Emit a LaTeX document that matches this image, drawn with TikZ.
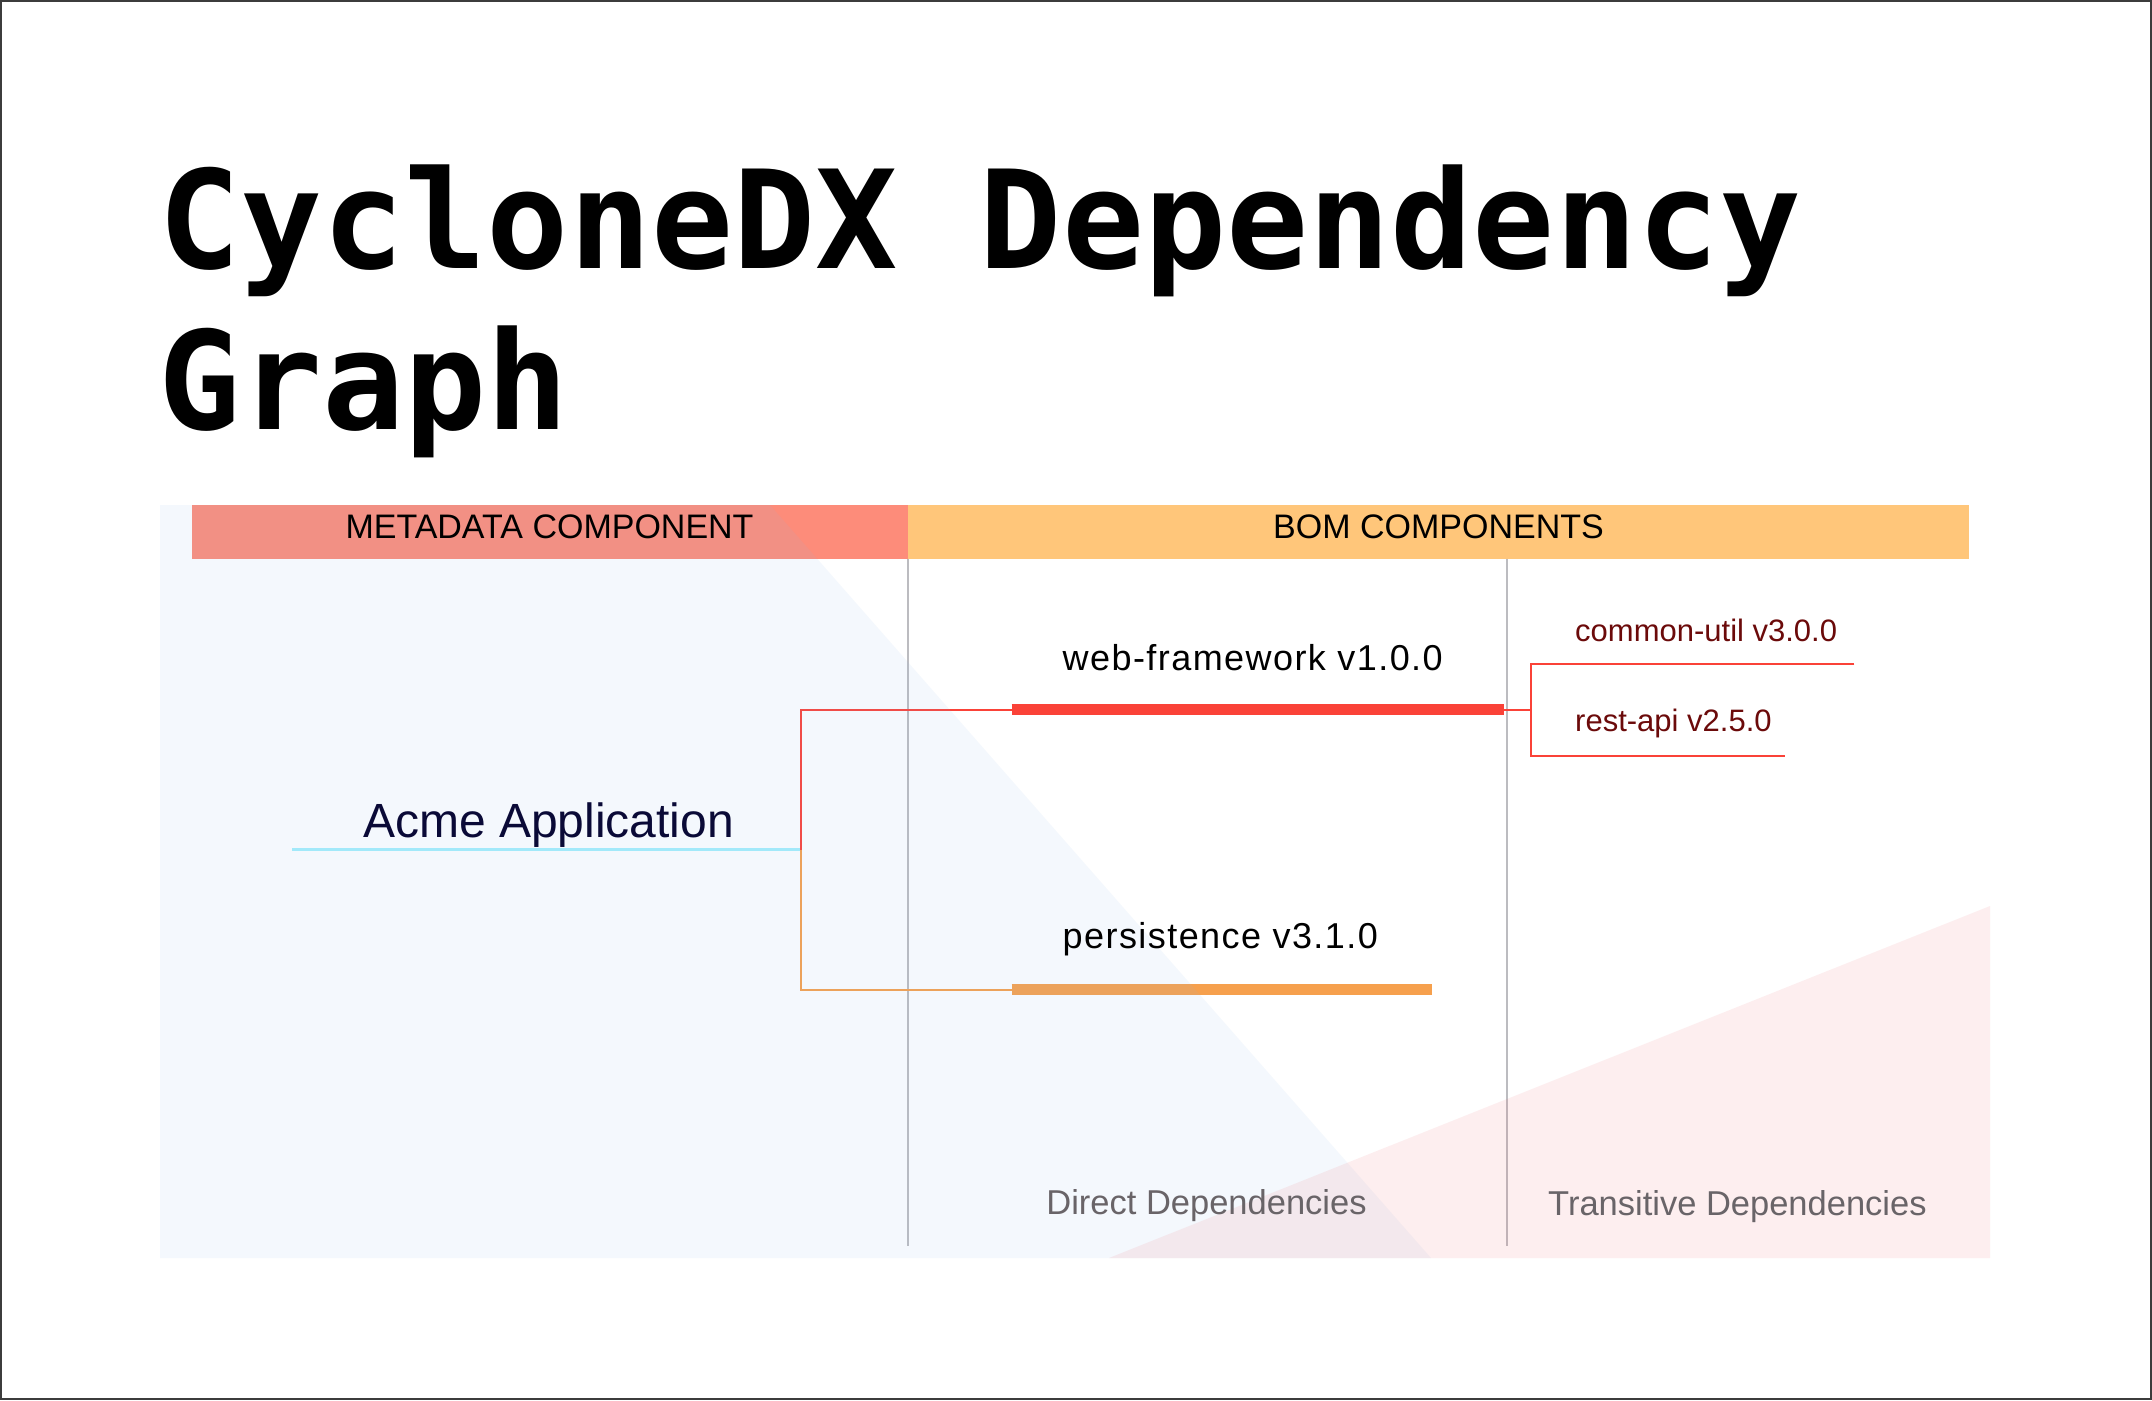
\documentclass[tikz,border=0pt]{standalone}
\usepackage{fontspec}
\setmainfont{Liberation Sans}
\newfontfamily\titlefont{DejaVu Sans Mono}
\newfontfamily\spacedfont{Liberation Sans}[LetterSpace=4]
\definecolor{salmon}{RGB}{253,140,122}
\definecolor{bomorange}{RGB}{255,198,122}
\definecolor{depred}{RGB}{250,66,56}
\definecolor{deporange}{RGB}{246,160,77}
\definecolor{acmecyan}{RGB}{165,238,252}
\definecolor{overlayblue}{RGB}{140,185,235}
\definecolor{overlaypink}{RGB}{240,105,115}
\definecolor{divider}{RGB}{188,188,192}
\definecolor{darkred}{RGB}{107,10,10}
\definecolor{navy}{RGB}{10,10,55}
\definecolor{labelgrey}{RGB}{105,100,104}
\definecolor{framegrey}{RGB}{60,60,60}
\begin{document}
\begin{tikzpicture}[x=1pt,y=-1pt,
  lbl/.style={inner sep=0pt, anchor=base west},
  titletext/.style={lbl, font=\titlefont\bfseries\fontsize{136.5}{160}\selectfont},
  barlabel/.style={inner sep=0pt, anchor=base, font=\fontsize{34}{40}\selectfont, text=black},
  deplabel/.style={lbl, font=\spacedfont\fontsize{36}{42}\selectfont, text=black},
  translabel/.style={lbl, font=\fontsize{31}{37}\selectfont, text=darkred},
  footlabel/.style={lbl, font=\fontsize{34.5}{40}\selectfont, text=labelgrey},
  redlink/.style={draw=depred, line width=2pt},
  orangelink/.style={draw=deporange, line width=2pt},
  redbar/.style={draw=depred, line width=10.7pt},
  orangebar/.style={draw=deporange, line width=10.7pt},
  dividerline/.style={draw=divider, line width=2pt}
]
\useasboundingbox (0,0) rectangle (2152,1400);
\fill[white] (0,0) rectangle (2152,1400);
\draw[framegrey, line width=2pt] (1,1) rectangle (2151,1399);

% title
\node[titletext] (title1) at (158,268) {CycloneDX Dependency};
\node[titletext] (title2) at (158,429.5) {Graph};

% header bars
\fill[salmon] (192,505) rectangle (908,558.5);
\fill[bomorange] (908,505) rectangle (1969,558.5);

% dividers
\coordinate (d1top) at (908,558.5);
\coordinate (d1bot) at (908,1246);
\coordinate (d2top) at (1507,558.5);
\coordinate (d2bot) at (1507,1246);
\draw[dividerline] (d1top) -- (d1bot);
\draw[dividerline] (d2top) -- (d2bot);

% connectors
\coordinate (acmeL) at (292,849.7);
\coordinate (junc) at (801,849.7);
\coordinate (jup) at (801,709.5);
\coordinate (jdown) at (801,989.5);
\coordinate (webL) at (1011.5,709.5);
\coordinate (webR) at (1503.5,709.5);
\coordinate (tj) at (1531,709.5);
\coordinate (tjup) at (1531,664.3);
\coordinate (tjdown) at (1531,756);
\coordinate (cuR) at (1854.3,664.3);
\coordinate (raR) at (1785,756);
\coordinate (perL) at (1011.5,989.5);
\coordinate (perR) at (1431.7,989.5);

\draw[acmecyan, line width=3.5pt] (acmeL) -- (junc);
\draw[redlink] (junc) -- (jup) -- (webL);
\draw[redbar] (webL) -- (webR);
\draw[redlink] (webR) -- (tj);
\draw[redlink] (cuR) -- (tjup) -- (tjdown) -- (raR);
\draw[orangelink] (junc) -- (jdown) -- (perL);
\draw[orangebar] (perL) -- (perR);

% translucent backgrounds
\fill[overlayblue, opacity=0.09] (160,505) -- (770,505) -- (1431,1258) -- (160,1258) -- cycle;
\fill[overlaypink, opacity=0.11] (1109,1258) -- (1990,906) -- (1990,1258) -- cycle;

% labels
\node[barlabel] (meta) at (549.5,538.3) {METADATA COMPONENT};
\node[barlabel] (bom) at (1438.5,538.3) {BOM COMPONENTS};
\node[lbl, font=\fontsize{48}{56}\selectfont, text=navy] (acme) at (363,837.3) {Acme Application};
\node[deplabel] (web) at (1062.5,670) {web-framework v1.0.0};
\node[deplabel] (per) at (1062.5,948.3) {persistence v3.1.0};
\node[translabel] (cu) at (1575,641.7) {common-util v3.0.0};
\node[translabel] (ra) at (1575,731.7) {rest-api v2.5.0};
\node[footlabel, anchor=base] (direct) at (1206.5,1214) {Direct Dependencies};
\node[footlabel] (trans) at (1548,1215) {Transitive Dependencies};
\end{tikzpicture}
\end{document}
